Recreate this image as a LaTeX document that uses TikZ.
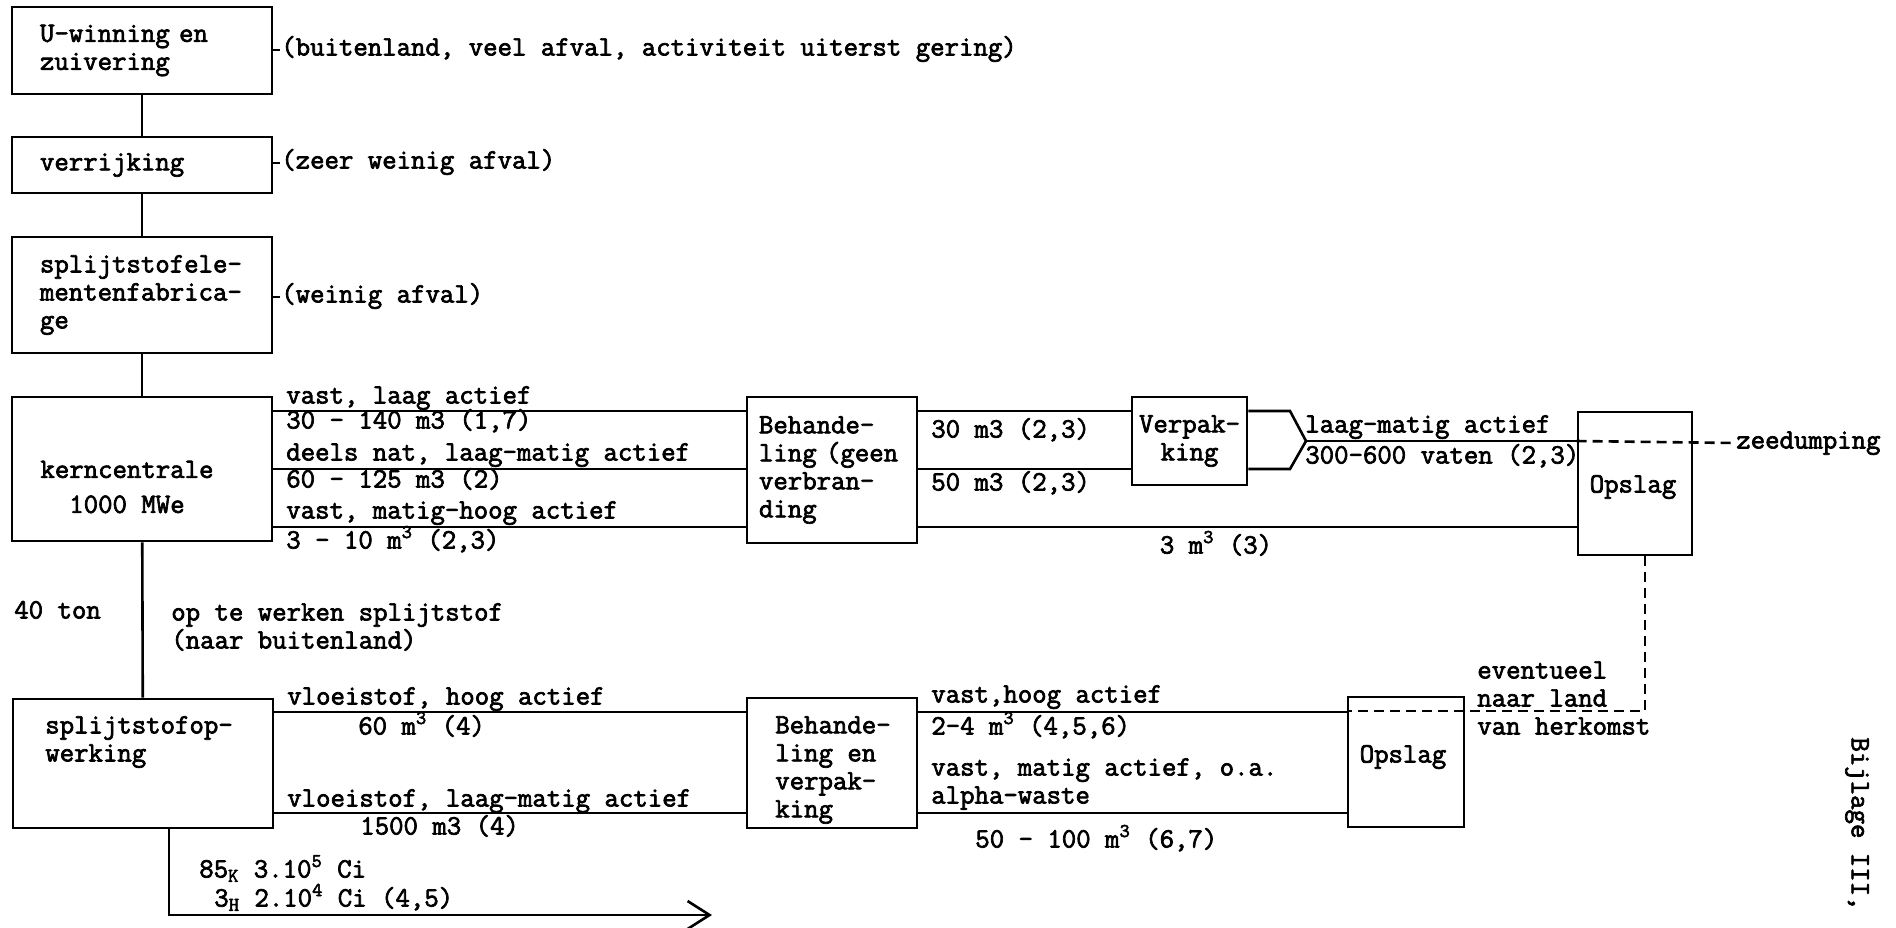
\documentclass[tikz,border=0pt]{standalone}
\usepackage{fontspec}
\setmonofont{Latin Modern Mono}[FakeBold=2.5]
\usetikzlibrary{arrows.meta}

\begin{document}
\begin{tikzpicture}[x=0.5pt, y=-0.5pt, line width=1.3pt,
    font=\ttfamily\fontsize{14}{14}\selectfont,
    box/.style={draw, inner sep=0pt},
    txt/.style={inner sep=0pt, anchor=west, text height=8pt, text depth=2.5pt},
    multi/.style={inner sep=0pt, anchor=west, align=left},
    dashline/.style={dash pattern=on 5pt off 3pt}]

    \useasboundingbox (0,0) rectangle (1896,927);

    % 1. The chain on the left
    \node[box, minimum width=130pt, minimum height=43.5pt, text width=102pt, align=left] (uwin) at (142,50.5) {U-winning en\\zuivering};
    \node[box, minimum width=130pt, minimum height=28pt, text width=102pt, align=left] (verr) at (142,165) {verrijking};
    \node[box, minimum width=130pt, minimum height=58pt, text width=102pt, align=left] (fab) at (142,295) {splijtstofele-\\mentenfabrica-\\ge};
    \node[box, minimum width=130pt, minimum height=72pt] (kc) at (142,469) {};
    \node[box, minimum width=130pt, minimum height=64.5pt] (opw) at (143,763.5) {};
    \node[inner sep=0pt, align=center] (kc-t) at (127,487) {kerncentrale\\[3.5pt]1000 MWe};
    \node[multi] (opw-t) at (44,742) {splijtstofop-\\werking};

    \draw (uwin) -- (verr);
    \draw (verr) -- (fab);
    \draw (fab) -- (kc);
    \draw (kc) -- (opw);

    % 2. Remarks next to the chain
    \node[txt] (n-uwin) at (280,50) {(buitenland, veel afval, activiteit uiterst gering)};
    \node[txt] (n-verr) at (280,163) {(zeer weinig afval)};
    \node[txt] (n-fab) at (280,297) {(weinig afval)};
    \draw (n-uwin.west -| uwin.east) -- (n-uwin.west);
    \draw (n-verr.west -| verr.east) -- (n-verr.west);
    \draw (n-fab.west -| fab.east) -- (n-fab.west);

    \node[txt] (ton) at (13,613) {40 ton};
    \node[multi] (naar) at (170,627) {op te werken splijtstof\\(naar buitenland)};

    % 3. Waste of the power plant
    \node[box, minimum width=85pt, minimum height=73pt, text width=73pt, align=left] (beh1) at (832,470) {Behande-\\ling (geen\\verbran-\\ding};
    \node[box, minimum width=57.5pt, minimum height=44pt, align=center] (verp) at (1189.5,441) {Verpak-\\king};
    \node[box, minimum width=57pt, minimum height=71.5pt] (ops1) at (1635,483.5) {};
    \node[inner sep=0pt] (ops1-t) at (1633,487) {Opslag};

    \coordinate (r1) at (0,411);
    \coordinate (r2) at (0,469);
    \coordinate (r3) at (0,527);
    \draw (kc.east |- r1) -- (beh1.west |- r1);
    \draw (kc.east |- r2) -- (beh1.west |- r2);
    \draw (kc.east |- r3) -- (beh1.west |- r3);
    \draw (beh1.east |- r1) -- (verp.west |- r1);
    \draw (beh1.east |- r2) -- (verp.west |- r2);
    \draw (beh1.east |- r3) -- (ops1.west |- r3);

    \coordinate (k1) at (1290,411);
    \coordinate (k2) at (1290,469);
    \coordinate (tip) at (1306,441);
    \draw (verp.east |- k1) -- (k1) -- (tip) -- (k2) -- (verp.east |- k2);
    \draw (tip) -- (ops1.west |- tip);

    \node[txt] (zee) at (1735,443) {zeedumping};
    \draw[dashline] (ops1.west |- tip) -- (zee.west);

    \node[txt] (a1) at (285,398) {vast, laag actief};
    \node[txt] (a2) at (285,423) {30 - 140 m3 (1,7)};
    \node[txt] (a3) at (285,455) {deels nat, laag-matig actief};
    \node[txt] (a4) at (285,482) {60 - 125 m3 (2)};
    \node[txt] (a5) at (285,513) {vast, matig-hoog actief};
    \node[txt] (a6) at (285,543) {3 - 10 m\textsuperscript{3} (2,3)};
    \node[txt] (b1) at (930,432) {30 m3 (2,3)};
    \node[txt] (b2) at (930,485) {50 m3 (2,3)};
    \node[txt, anchor=center] (b3) at (1216,548) {3 m\textsuperscript{3} (3)};
    \node[txt] (c1) at (1304,427) {laag-matig actief};
    \node[txt] (c2) at (1304,458) {300-600 vaten (2,3)};

    % 4. Waste of the reprocessing
    \node[box, minimum width=85pt, minimum height=65pt] (beh2) at (832,763) {};
    \node[multi] (beh2-t) at (774,770) {Behande-\\ling en\\verpak-\\king};
    \node[box, minimum width=58pt, minimum height=65pt] (ops2) at (1406,762) {};
    \node[inner sep=0pt] (ops2-t) at (1403,757) {Opslag};

    \coordinate (s1) at (0,712);
    \coordinate (s2) at (0,813);
    \draw (opw.east |- s1) -- (beh2.west |- s1);
    \draw (opw.east |- s2) -- (beh2.west |- s2);
    \draw (beh2.east |- s1) -- (ops2.west |- s1);
    \draw (beh2.east |- s2) -- (ops2.west |- s2);

    \coordinate (dn) at (1645,711);
    \draw[dashline] ([xshift=5pt]ops1.south) -- (dn) -- (ops2.west |- dn);

    \node[txt] (d1) at (286,699) {vloeistof, hoog actief};
    \node[txt] (d2) at (357,729) {60 m\textsuperscript{3} (4)};
    \node[txt] (d3) at (286,801) {vloeistof, laag-matig actief};
    \node[txt] (d4) at (359,829) {1500 m3 (4)};
    \node[txt] (e1) at (930,697) {vast,hoog actief};
    \node[txt] (e2) at (930,729) {2-4 m\textsuperscript{3} (4,5,6)};
    \node[multi] (e3) at (930,784) {vast, matig actief, o.a.\\alpha-waste};
    \node[txt] (e4) at (974,842) {50 - 100 m\textsuperscript{3} (6,7)};
    \node[multi] (terug) at (1476,698) {eventueel\\naar land\\van herkomst};

    % 5. Gases
    \coordinate (gas) at (169,915);
    \coordinate (gas-end) at (712,915);
    \draw[-{Straight Barb[length=11pt, width=14pt]}] (opw.south -| gas) -- (gas) -- (gas-end);
    \node[txt] (kr) at (198,872) {85\textsubscript{K} 3.10\textsuperscript{5} Ci};
    \node[txt] (h3) at (213,901) {3\textsubscript{H} 2.10\textsuperscript{4} Ci (4,5)};

    \node[inner sep=0pt, rotate=-90] (bijl) at (1857,824) {Bijlage III,};

\end{tikzpicture}
\end{document}
